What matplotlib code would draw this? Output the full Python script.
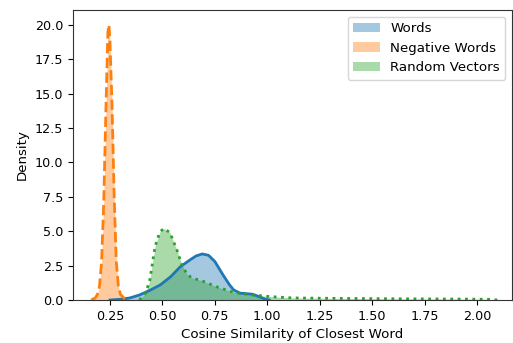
import matplotlib
matplotlib.use("Agg")
import matplotlib.pyplot as plt

# Density curves of cosine similarity to the closest word
words_x = [0.25, 0.30, 0.345, 0.39, 0.44, 0.49, 0.54, 0.584, 0.63, 0.66, 0.69,
           0.72, 0.75, 0.79, 0.82, 0.84, 0.87, 0.90, 0.93, 0.96, 0.99, 1.01]
words_y = [0.0, 0.05, 0.15, 0.36, 0.7, 1.1, 1.7, 2.4, 2.9, 3.2, 3.35,
           3.25, 2.8, 1.8, 1.1, 0.73, 0.5, 0.46, 0.42, 0.25, 0.06, 0.0]

neg_x = [0.16, 0.18, 0.19, 0.20, 0.21, 0.22, 0.23, 0.24, 0.245, 0.25,
         0.26, 0.27, 0.28, 0.29, 0.30, 0.32, 0.34]
neg_y = [0.0, 0.15, 0.4, 1.0, 2.8, 7.0, 13.5, 19.5, 20.0, 18.8,
         14.0, 7.5, 2.8, 1.0, 0.4, 0.1, 0.0]

rand_x = [0.39, 0.42, 0.44, 0.465, 0.488, 0.507, 0.536, 0.57, 0.593, 0.62,
          0.65, 0.68, 0.72, 0.76, 0.80, 0.84, 0.93, 1.01, 1.12, 1.3, 1.5,
          1.7, 1.9, 2.05, 2.1]
rand_y = [0.0, 0.5, 1.45, 3.9, 4.95, 5.2, 4.9, 3.6, 2.55, 1.8,
          1.55, 1.45, 1.2, 0.95, 0.75, 0.55, 0.36, 0.25, 0.15, 0.12, 0.1,
          0.08, 0.07, 0.05, 0.0]

series = [
    ("Words", words_x, words_y, "#1f77b4", "-"),
    ("Negative Words", neg_x, neg_y, "#ff7f0e", "--"),
    ("Random Vectors", rand_x, rand_y, "#2ca02c", ":"),
]

plt.rcParams["font.size"] = 9.6
plt.rcParams["axes.edgecolor"] = "#333333"

fig = plt.figure(figsize=(5.13, 3.43), dpi=100)
ax = fig.add_axes([0.1423, 0.1254, 0.8557, 0.8454])

for label, xs, ys, color, ls in series:
    ax.fill_between(xs, ys, 0, color=color, alpha=0.4, lw=0, label=label)
    ax.plot(xs, ys, color=color, ls=ls, lw=2)

ax.set_xlim(0.0736, 2.167)
ax.set_ylim(0, 21.09)
ax.set_xticks([0.25, 0.5, 0.75, 1.0, 1.25, 1.5, 1.75, 2.0])
ax.set_yticks([0, 2.5, 5, 7.5, 10, 12.5, 15, 17.5, 20])
ax.xaxis.set_major_formatter(matplotlib.ticker.FormatStrFormatter("%.2f"))
ax.yaxis.set_major_formatter(matplotlib.ticker.FormatStrFormatter("%.1f"))
ax.tick_params(labelsize=9.2)
ax.set_xlabel("Cosine Similarity of Closest Word")
ax.set_ylabel("Density")
ax.legend(loc="upper right")

fig.savefig("out.png", dpi=100)
